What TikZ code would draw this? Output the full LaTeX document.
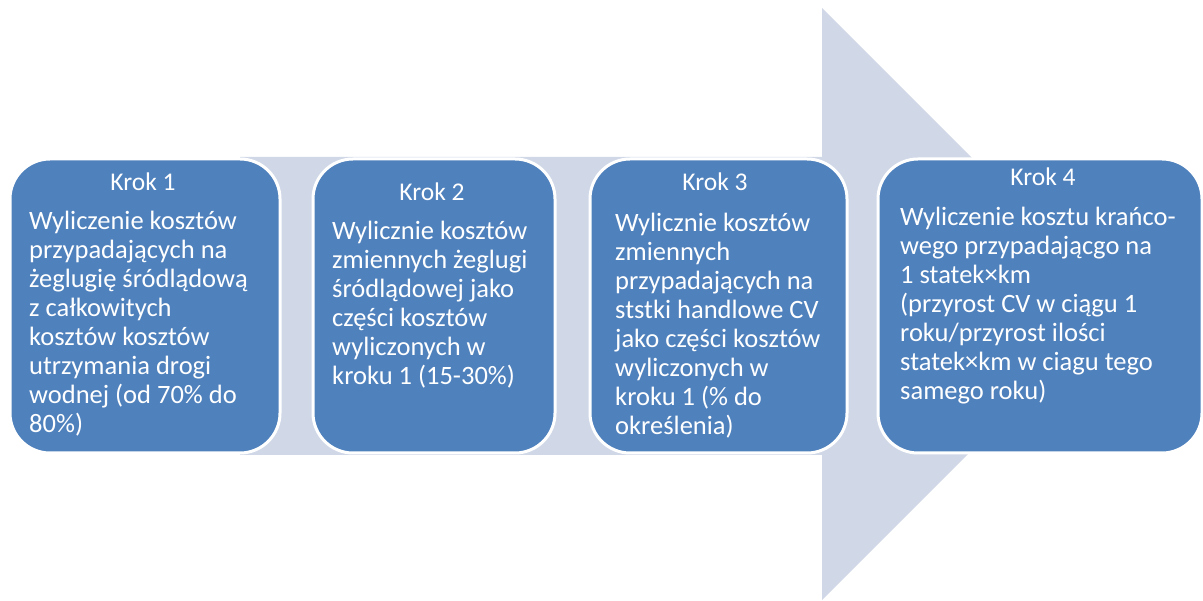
\documentclass[tikz,border=0pt]{standalone}
\usepackage{fontspec}
\setmainfont{Carlito}
\definecolor{boxblue}{RGB}{79,129,189}
\definecolor{arrowgray}{RGB}{208,216,232}
\begin{document}
\begin{tikzpicture}[x=1pt,y=-1pt,
  stepbox/.style={draw=white, line width=3pt, fill=boxblue, rounded corners=40pt, inner sep=0pt},
  headtext/.style={text=white, anchor=base, inner sep=0pt, font=\fontsize{25.5}{29}\selectfont},
  bodytext/.style={text=white, anchor=north west, inner sep=0pt, align=left, font=\fontsize{26.5}{29}\selectfont}]
\useasboundingbox (0,0) rectangle (1203,601);
\fill[arrowgray] (240,157) -- (822,157) -- (822,8) -- (1118,304) -- (822,600) -- (822,455) -- (240,455) -- cycle;
\node[stepbox, minimum width=270pt, minimum height=294pt] (b1) at (145,306) {};
\node[stepbox, minimum width=242pt, minimum height=294pt] (b2) at (434,306) {};
\node[stepbox, minimum width=257pt, minimum height=294pt] (b3) at (718.5,306) {};
\node[stepbox, minimum width=324pt, minimum height=294pt] (b4) at (1040,306) {};
\node[headtext] (h1) at (143,191) {Krok 1};
\node[headtext] (h2) at (432,201) {Krok 2};
\node[headtext] (h3) at (715,191) {Krok 3};
\node[headtext] (h4) at (1043,186) {Krok 4};
\node[bodytext] (t1) at (29,208.7) {\strut Wyliczenie kosztów\\przypadających na\\żeglugię śródlądową\\z całkowitych\\kosztów kosztów\\utrzymania drogi\\wodnej (od 70\% do\\80\%)};
\node[bodytext] (t2) at (332,218.7) {\strut Wylicznie kosztów\\zmiennych żeglugi\\śródlądowej jako\\części kosztów\\wyliczonych w\\kroku 1 (15-30\%)};
\node[bodytext] (t3) at (615,210.7) {\strut Wylicznie kosztów\\zmiennych\\przypadających na\\ststki handlowe CV\\jako części kosztów\\wyliczonych w\\kroku 1 (\% do\\określenia)};
\node[bodytext] (t4) at (900,204.7) {\strut Wyliczenie kosztu krańco-\\wego przypadającgo na\\1 statek×km\\(przyrost CV w ciągu 1\\roku/przyrost ilości\\statek×km w ciagu tego\\samego roku)};
\end{tikzpicture}
\end{document}
